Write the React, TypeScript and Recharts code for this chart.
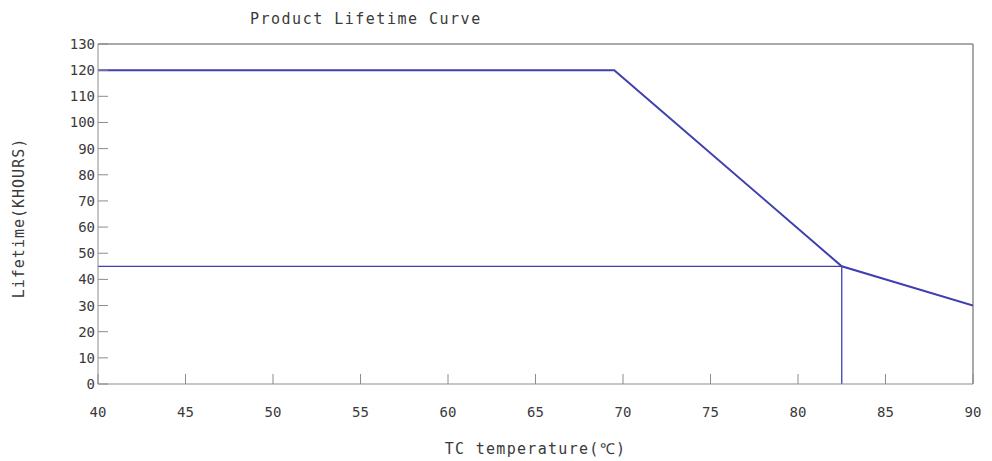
import { LineChart, Line, XAxis, YAxis, ReferenceLine } from "recharts";

// lifetime curve (TC temperature in °C, lifetime in kilo-hours)
const curveTemps = [40, 69.5, 82.5, 90];
const curveLife = [120, 120, 45, 30];

// guide lines: horizontal at 45k hours and drop to the x axis at 82.5 °C
const guideTemps = [40, 82.5, 82.5];
const guideLife = [45, 45, 0];

const xTicks = [40, 45, 50, 55, 60, 65, 70, 75, 80, 85, 90];
const yTicks = [0, 10, 20, 30, 40, 50, 60, 70, 80, 90, 100, 110, 120, 130];

const curveData = curveTemps.map((t, i) => ({ t, life: curveLife[i] }));
const guideData = guideTemps.map((t, i) => ({ t, life: guideLife[i] }));

const font = "'DejaVu Sans Mono', 'Liberation Mono', monospace";
const axisGray = "#8c8c8c";
const lineBlue = "#3f3fb0";
const textColor = "#3a3a3a";

function App() {
	return (
		<div
			style={{
				position: "absolute",
				left: 0,
				top: 0,
				width: 992,
				height: 461,
				background: "#fff",
				fontFamily: font,
			}}
		>
			<div
				style={{
					position: "absolute",
					left: 250,
					top: 10,
					fontSize: 15,
					letterSpacing: 1.5,
					color: textColor,
					whiteSpace: "nowrap",
				}}
			>
				Product Lifetime Curve
			</div>
			<LineChart
				width={992}
				height={461}
				margin={{ top: 44, right: 19, left: 40, bottom: 7 }}
			>
				<XAxis
					dataKey="t"
					type="number"
					domain={[40, 90]}
					ticks={xTicks}
					allowDataOverflow
					stroke={axisGray}
					tickSize={-10}
					tickMargin={33}
					height={70}
					tick={{ fill: textColor, fontSize: 14, fontFamily: font }}
					label={{
						value: "TC temperature(℃)",
						position: "insideBottom",
						offset: 0,
						fill: textColor,
						fontSize: 15,
						fontFamily: font,
						letterSpacing: 1.3,
					}}
				/>
				<YAxis
					dataKey="life"
					type="number"
					domain={[0, 130]}
					ticks={yTicks}
					interval={0}
					stroke={axisGray}
					tickSize={-10}
					tickMargin={13}
					width={58}
					tick={{ fill: textColor, fontSize: 14, fontFamily: font }}
					label={{
						content: () => (
							<text
								x={24}
								y={218}
								transform="rotate(-90 24 218)"
								textAnchor="middle"
								fill={textColor}
								fontSize={15}
								fontFamily={font}
								letterSpacing={1}
							>
								Lifetime(KHOURS)
							</text>
						),
					}}
				/>
				{/* plot frame: top and right edges */}
				<ReferenceLine y={130} stroke={axisGray} strokeWidth={1.5} />
				<ReferenceLine x={90} stroke={axisGray} strokeWidth={1.5} />
				<Line
					data={guideData}
					dataKey="life"
					type="linear"
					stroke={lineBlue}
					strokeWidth={1.3}
					dot={false}
					isAnimationActive={false}
				/>
				<Line
					data={curveData}
					dataKey="life"
					type="linear"
					stroke={lineBlue}
					strokeWidth={2}
					dot={false}
					isAnimationActive={false}
				/>
			</LineChart>
		</div>
	);
}

export default App;
